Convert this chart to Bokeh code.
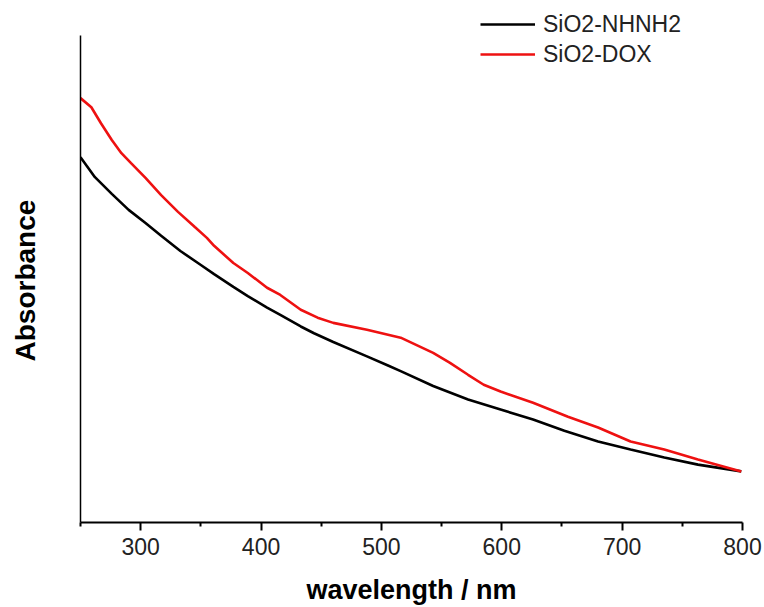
from bokeh.plotting import figure
from bokeh.models import Range1d, FixedTicker, Legend, LegendItem, Title
from bokeh.embed import file_html
from bokeh.resources import INLINE

# wavelength (nm) and absorbance (a.u.)
wl_nhnh2 = [250, 262, 276, 290, 304, 317, 333, 350, 361, 377, 389, 405, 416, 433, 444,
            460, 488, 505, 516, 543, 572, 599, 626, 652, 680, 707, 735, 763, 799]
abs_nhnh2 = [0.915, 0.865, 0.823, 0.783, 0.750, 0.718, 0.680, 0.645, 0.622, 0.590,
             0.567, 0.538, 0.520, 0.491, 0.474, 0.452, 0.416, 0.394, 0.379, 0.342,
             0.308, 0.283, 0.258, 0.230, 0.203, 0.183, 0.163, 0.145, 0.128]

wl_dox = [250, 259, 267, 276, 284, 292, 304, 317, 331, 345, 355, 361, 377, 389, 405,
          416, 433, 447, 460, 488, 516, 543, 557, 572, 585, 599, 626, 655, 680, 707,
          735, 763, 799]
abs_dox = [1.063, 1.040, 1.000, 0.958, 0.925, 0.900, 0.863, 0.820, 0.778, 0.740,
           0.713, 0.693, 0.650, 0.625, 0.588, 0.570, 0.533, 0.513, 0.500, 0.483,
           0.463, 0.425, 0.400, 0.370, 0.345, 0.328, 0.300, 0.265, 0.238, 0.203,
           0.183, 0.158, 0.128]

x_major = [300, 400, 500, 600, 700, 800]
x_minor = [250, 350, 450, 550, 650, 750]
series_names = ["SiO2-NHNH2", "SiO2-DOX"]

FONT = "Liberation Sans"

p = figure(width=764, height=607, output_backend="svg", toolbar_location=None,
           x_range=Range1d(250, 800), y_range=Range1d(0, 1.3075),
           min_border_left=80, min_border_right=22, min_border_top=0,
           min_border_bottom=84)
p.outline_line_color = None
p.grid.visible = False
p.background_fill_color = "white"
p.border_fill_color = "white"

r1 = p.line(wl_nhnh2, abs_nhnh2, line_color="black", line_width=2.6)
r2 = p.line(wl_dox, abs_dox, line_color="#ee1111", line_width=2.6)

xa = p.xaxis[0]
xa.ticker = FixedTicker(ticks=x_major, minor_ticks=x_minor)
xa.axis_line_width = 2
xa.axis_line_color = "black"
xa.major_tick_line_width = 2
xa.minor_tick_line_width = 2
xa.major_tick_in = 0
xa.major_tick_out = 8
xa.minor_tick_in = 0
xa.minor_tick_out = 4
xa.major_label_text_font = FONT
xa.major_label_text_font_size = "23px"
xa.major_label_text_color = "#222222"
xa.major_label_standoff = 7
xa.axis_label = "wavelength / nm"
xa.axis_label_text_font = FONT
xa.axis_label_text_font_style = "bold"
xa.axis_label_text_font_size = "27px"
xa.axis_label_text_color = "black"
xa.axis_label_standoff = 17

# y axis: line only (no visible ticks or numbers), as in the reference
ya = p.yaxis[0]
ya.ticker = FixedTicker(ticks=[0.6], minor_ticks=[])
ya.bounds = (0, 1.22)
ya.axis_line_width = 1.5
ya.axis_line_color = "black"
ya.major_tick_line_color = None
ya.minor_tick_line_color = None
ya.major_tick_in = 0
ya.major_tick_out = 37
ya.minor_tick_out = 0
ya.major_label_text_font_size = "0px"
ya.major_label_text_color = None
ya.major_label_standoff = 0
ya.axis_label = None

ytitle = Title(text="Absorbance", align="left", offset=161, vertical_align="middle",
               standoff=4, text_font=FONT, text_font_size="28px",
               text_font_style="bold", text_color="black")
p.add_layout(ytitle, "left")
p.left = [ya, ytitle]

legend = Legend(items=[LegendItem(label=series_names[0], renderers=[r1]),
                       LegendItem(label=series_names[1], renderers=[r2])],
                location=(400, 453))
legend.label_text_font = FONT
legend.label_text_font_size = "23px"
legend.label_text_color = "#222222"
legend.label_height = 30
legend.glyph_height = 30
legend.glyph_width = 55
legend.label_standoff = 8
legend.spacing = 0
legend.padding = 0
legend.margin = 0
legend.border_line_color = None
legend.background_fill_alpha = 0
p.add_layout(legend, "center")

open("out.html", "w").write(file_html(p, INLINE))
